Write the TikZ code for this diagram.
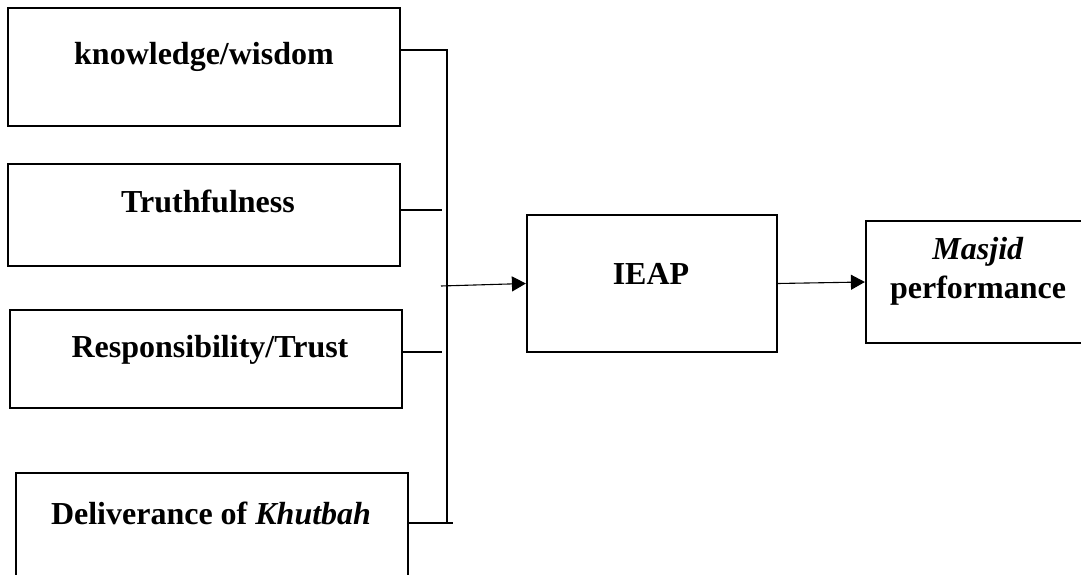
\documentclass[tikz,border=0pt]{standalone}
\usepackage{fontspec}
\setmainfont{Liberation Serif}
\usetikzlibrary{arrows.meta}
\begin{document}
\begin{tikzpicture}[x=1pt,y=1pt,
  box/.style={draw=black,line width=2.2pt,rectangle,inner sep=0pt},
  lbl/.style={anchor=base,inner sep=0pt,font=\fontsize{32}{39}\selectfont\bfseries},
  conn/.style={draw=black,line width=1.1pt},
  arr/.style={conn,-{Triangle[length=14pt,width=15pt]}}]
\useasboundingbox (0,0) rectangle (1081,575);
\fill[white] (0,0) rectangle (1081,575);
% boxes
\node[box,minimum width=392pt,minimum height=118pt] (b1) at (204,508) {};
\node[box,minimum width=392pt,minimum height=102pt] (b2) at (204,360) {};
\node[box,minimum width=392pt,minimum height=98pt] (b3) at (206,216) {};
\node[box,minimum width=392pt,minimum height=108pt] (b4) at (212,48) {};
\node[box,minimum width=250pt,minimum height=137pt] (ieap) at (652,291.5) {};
\node[box,minimum width=224pt,minimum height=122pt] (mp) at (978,293) {};
% labels
\node[lbl] (t1) at (204,510) {knowledge/wisdom};
\node[lbl] (t2) at (208,362) {Truthfulness};
\node[lbl] (t3) at (210,217) {Responsibility/Trust};
\node[lbl] (t4) at (211,50) {Deliverance of \textit{Khutbah}};
\node[lbl] (t5) at (651,290) {IEAP};
\node[lbl] (t6) at (978,315) {\textit{Masjid}};
\node[lbl] (t7) at (978,276) {performance};
% bus
\coordinate (bustop) at (447,525);
\coordinate (busbot) at (447,52);
\coordinate (e2) at (442,365);
\coordinate (e3) at (442,223);
\coordinate (e4) at (453,52);
\coordinate (a0) at (441,289);
\draw[conn] (b1.east |- bustop) -- (bustop) -- (busbot);
\draw[conn] (b2.east |- e2) -- (e2);
\draw[conn] (b3.east |- e3) -- (e3);
\draw[conn] (b4.east |- e4) -- (e4);
\draw[arr] (a0) -- (ieap.west);
\draw[arr] (ieap.east) -- (mp.west);
\end{tikzpicture}
\end{document}
